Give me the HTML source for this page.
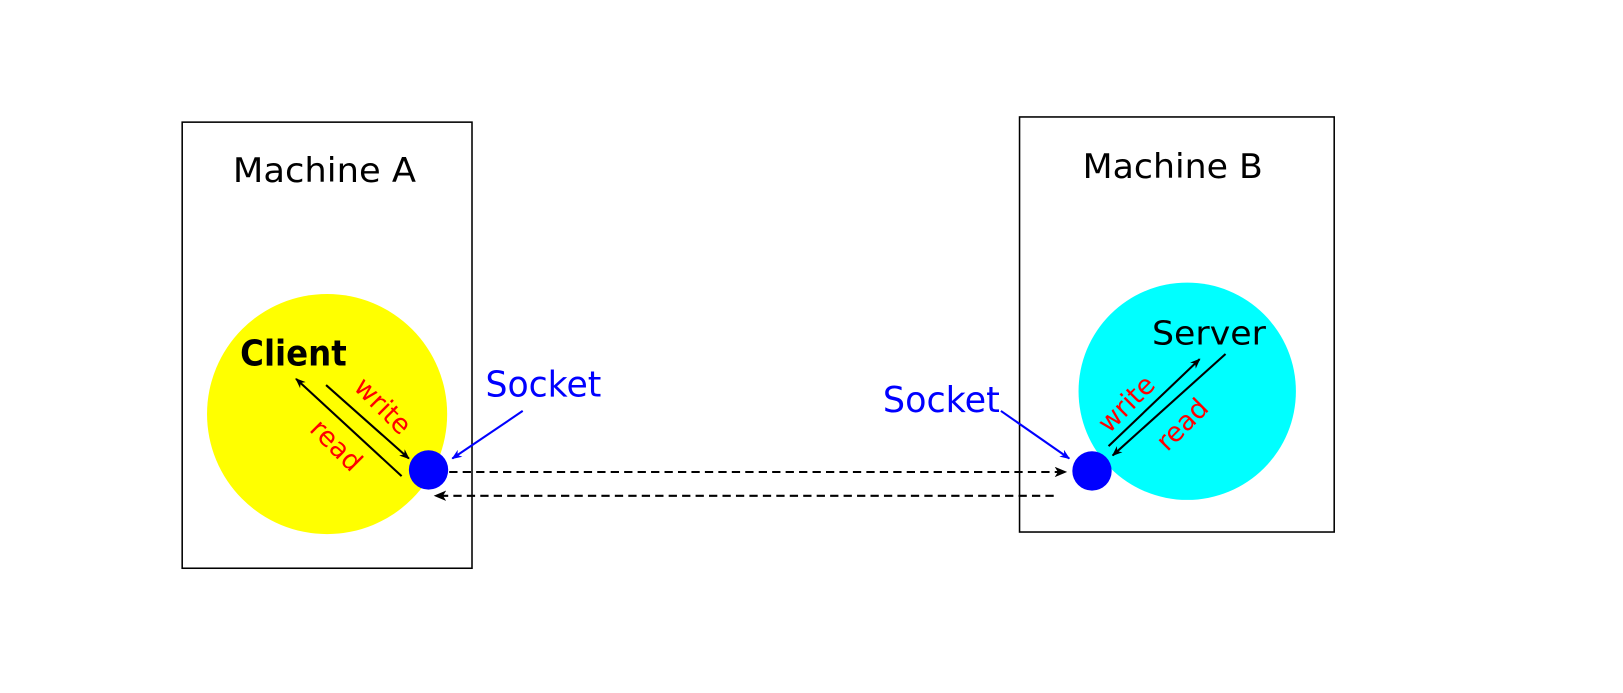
<!DOCTYPE html>
<html><head><meta charset="utf-8"><style>html,body{margin:0;padding:0;background:#fff}</style></head>
<body>
<svg width="1623" height="688" viewBox="0 0 1568 664.7" xmlns="http://www.w3.org/2000/svg" font-family="'DejaVu Sans','Liberation Sans',sans-serif">
<defs>
<marker id="ak" markerWidth="10" markerHeight="8" refX="9" refY="4" orient="auto" markerUnits="userSpaceOnUse"><path d="M0,0 L10,4 L0,8 L3,4 z" fill="#000"/></marker>
<marker id="ab" markerWidth="10" markerHeight="8" refX="9" refY="4" orient="auto" markerUnits="userSpaceOnUse"><path d="M0,0 L10,4 L0,8 L3,4 z" fill="#00f"/></marker>
<marker id="ad" markerWidth="12" markerHeight="10" refX="11" refY="5" orient="auto" markerUnits="userSpaceOnUse"><path d="M0,0 L12,5 L0,10 L3,5 z" fill="#000"/></marker>
</defs>
<rect x="176" y="118" width="280" height="431" fill="none" stroke="#000" stroke-width="1.5"/>
<rect x="985" y="113" width="304" height="401" fill="none" stroke="#000" stroke-width="1.5"/>
<text x="225" y="176" font-size="33" textLength="177" lengthAdjust="spacingAndGlyphs">Machine A</text>
<text x="1046" y="172" font-size="33" textLength="174" lengthAdjust="spacingAndGlyphs">Machine B</text>
<circle cx="316" cy="400" r="116" fill="#ff0"/>
<circle cx="1147" cy="378" r="105" fill="#0ff"/>
<text x="232" y="353" font-size="34" font-weight="bold" textLength="103" lengthAdjust="spacingAndGlyphs">Client</text>
<text x="1113" y="333" font-size="32" textLength="110" lengthAdjust="spacingAndGlyphs">Server</text>
<line x1="315" y1="372" x2="395" y2="443" stroke="#000" stroke-width="2" marker-end="url(#ak)"/>
<line x1="388" y1="460" x2="286" y2="366" stroke="#000" stroke-width="2" marker-end="url(#ak)"/>
<text transform="translate(370,392) rotate(45)" font-size="26" fill="#f00" text-anchor="middle" dy="9">write</text>
<text transform="translate(325,430) rotate(45)" font-size="26" fill="#f00" text-anchor="middle" dy="9">read</text>
<line x1="1071" y1="431" x2="1159" y2="347" stroke="#000" stroke-width="2" marker-end="url(#ak)"/>
<line x1="1184" y1="342" x2="1075" y2="440" stroke="#000" stroke-width="2" marker-end="url(#ak)"/>
<text transform="translate(1088,390) rotate(-45)" font-size="26" fill="#f00" text-anchor="middle" dy="9">write</text>
<text transform="translate(1142,410) rotate(-45)" font-size="26" fill="#f00" text-anchor="middle" dy="9">read</text>
<circle cx="414" cy="454" r="19" fill="#00f"/>
<circle cx="1055" cy="455" r="19" fill="#00f"/>
<text x="469" y="383" font-size="34" fill="#00f" textLength="112" lengthAdjust="spacingAndGlyphs">Socket</text>
<text x="853" y="398" font-size="34" fill="#00f" textLength="113" lengthAdjust="spacingAndGlyphs">Socket</text>
<line x1="505" y1="397" x2="437" y2="443" stroke="#00f" stroke-width="2" marker-end="url(#ab)"/>
<line x1="967" y1="397" x2="1033" y2="443" stroke="#00f" stroke-width="2" marker-end="url(#ab)"/>
<line x1="434" y1="456" x2="1030" y2="456" stroke="#000" stroke-width="2" stroke-dasharray="8,5" marker-end="url(#ad)"/>
<line x1="1018" y1="479" x2="420" y2="479" stroke="#000" stroke-width="2" stroke-dasharray="8,5" marker-end="url(#ad)"/>
</svg>
</body></html>
